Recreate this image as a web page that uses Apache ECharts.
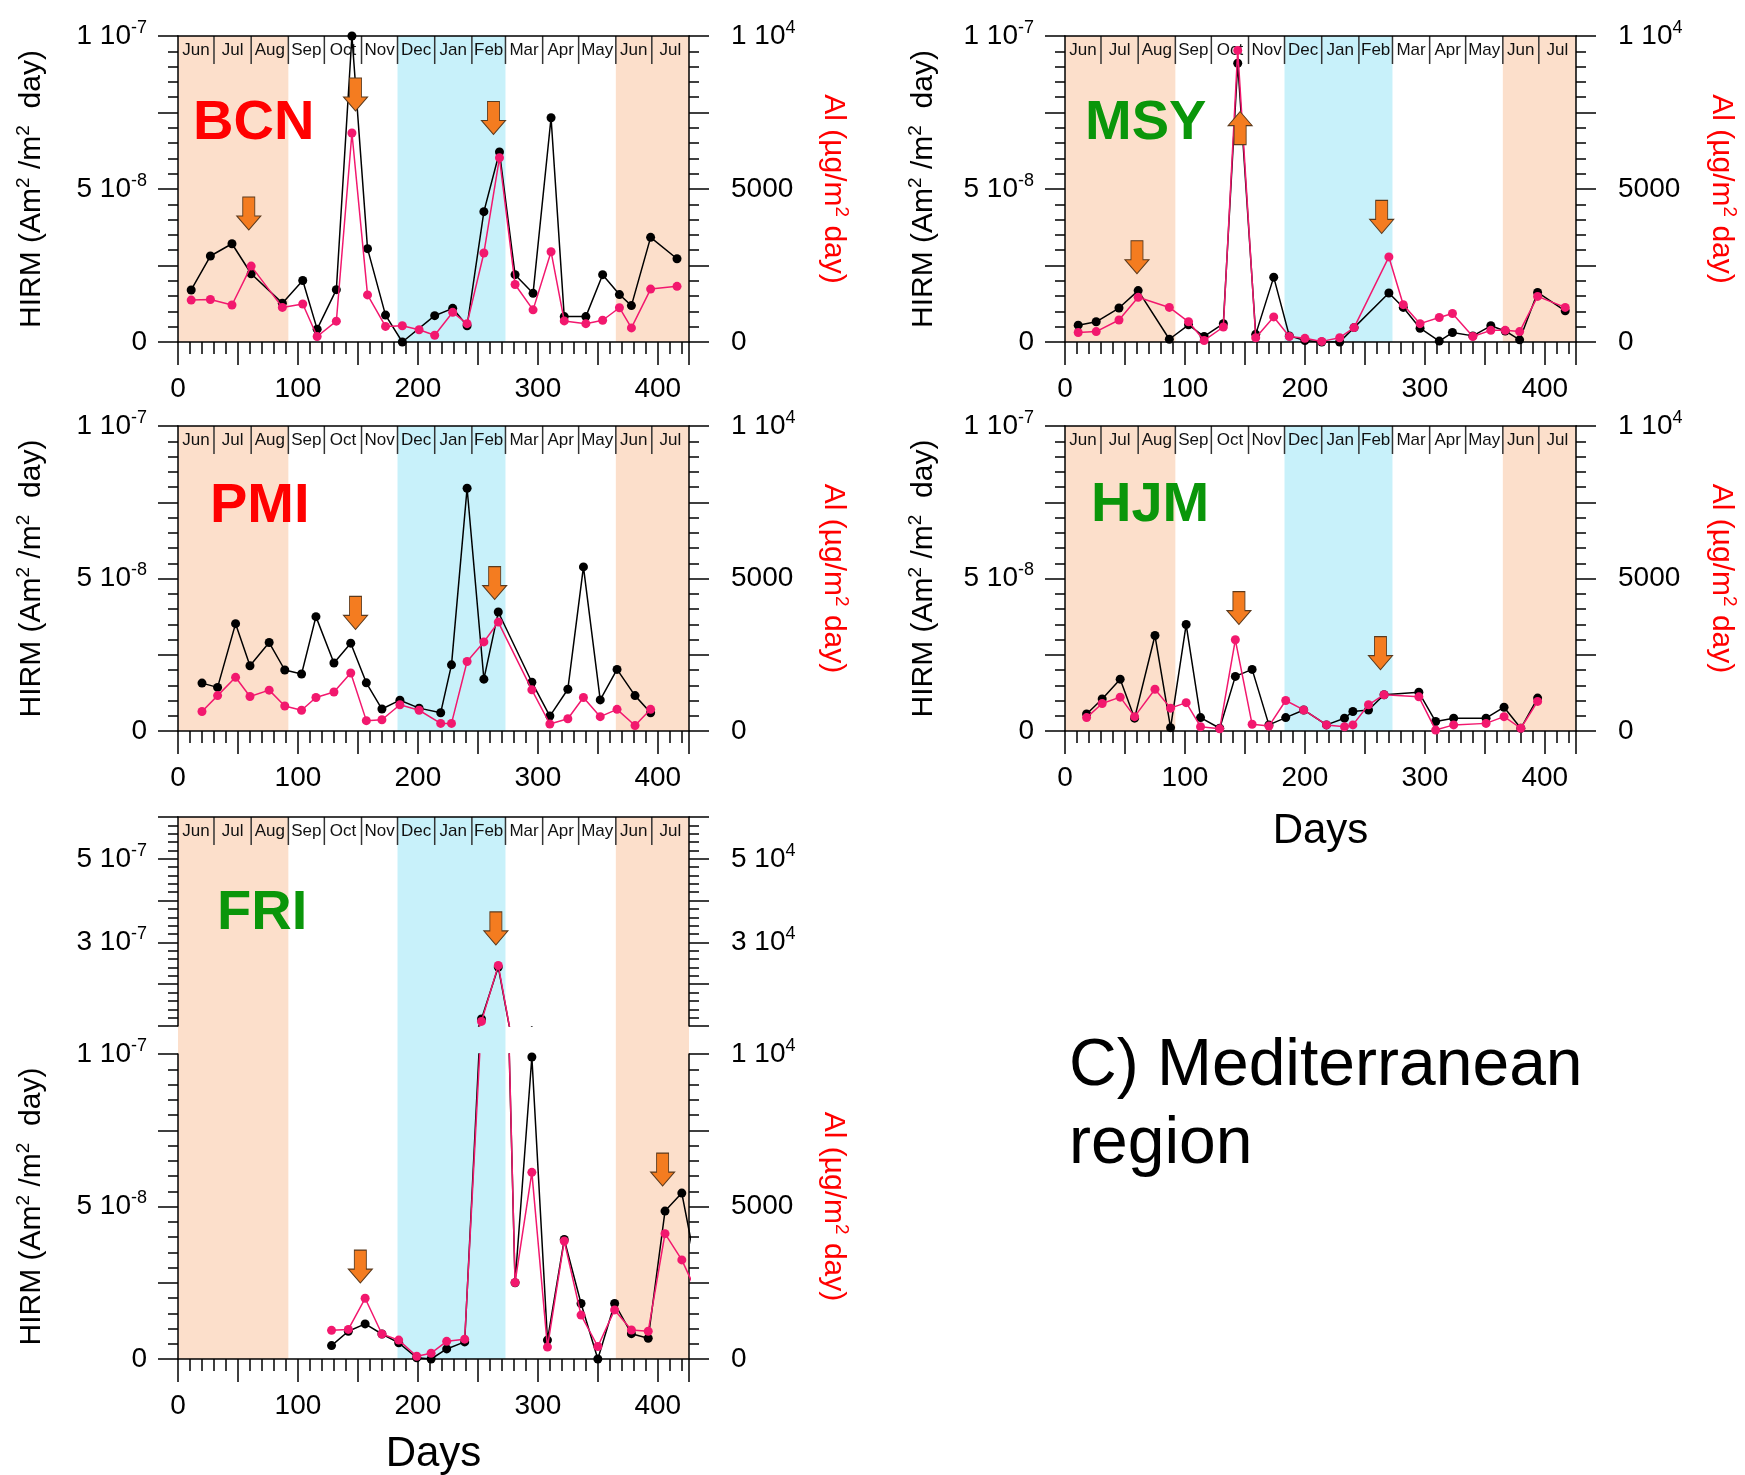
<!DOCTYPE html>
<html><head><meta charset="utf-8">
<script src="https://cdn.jsdelivr.net/npm/echarts/dist/echarts.min.js"></script>
<style>html,body{margin:0;padding:0;background:#fff}#c{width:1745px;height:1475px}</style>
</head><body><div id="c"></div>
<script>
// ================= DATA =================
// Calendar header (days since 1 June)
const monthNames  = ['Jun','Jul','Aug','Sep','Oct','Nov','Dec','Jan','Feb','Mar','Apr','May','Jun','Jul'];
const monthStarts = [0,30,61,92,122,153,183,214,245,273,304,334,365,395];
const monthEnds   = [30,61,92,122,153,183,214,245,273,304,334,365,395,426];
// Seasonal shading: 0 = summer (peach), 1 = winter (cyan)
const bandStarts = [0,183,365];
const bandEnds   = [92,273,426];
const bandKinds  = [0,1,0];
// Tick labels
const dayTickLabels = [0,100,200,300,400];
const hirmTickVals  = [0,5,10];          // units of 1e-8
const hirmTickText  = ['0','5 10{s|-8}','1 10{s|-7}'];
const hirmUpTickVals = [30,50];
const hirmUpTickText = ['3 10{s|-7}','5 10{s|-7}'];
const alTickVals  = [0,5000,10000];
const alTickText  = ['0','5000','1 10{s|4}'];
const alUpTickVals = [30000,50000];
const alUpTickText = ['3 10{s|4}','5 10{s|4}'];

// HIRM in units of 1e-8 Am2/m2 day ; Al in µg/m2 day
const bcnDaysH = [11,27,45,61,87,104,116,132,145,158,173,187,214,229,241,255,268,281,296,311,322,340,354,368,378,394,416];
const bcnHirm  = [1.70,2.81,3.21,2.23,1.27,2.01,0.42,1.71,10.0,3.05,0.88,0.0,0.86,1.10,0.53,4.26,6.21,2.20,1.59,7.33,0.83,0.83,2.20,1.55,1.19,3.42,2.72];
const bcnDaysA = [11,27,45,61,87,104,116,132,145,158,173,187,201,214,229,241,255,268,281,296,311,322,340,354,368,378,394,416];
const bcnAl    = [1370,1390,1210,2480,1130,1240,180,680,6830,1540,510,530,400,220,970,600,2910,6020,1880,1050,2950,690,600,710,1120,460,1730,1820];
const bcnArrowDays = [59,148,263];
const bcnArrowTips = [3.66,7.55,6.78];
const bcnArrowDirs = ['down','down','down'];

const msyDays = [11,26,45,61,87,103,116,132,144,159,174,187,200,214,229,241,270,282,296,312,323,340,355,367,379,394,417];
const msyHirm = [0.55,0.66,1.11,1.68,0.09,0.56,0.18,0.60,9.11,0.25,2.12,0.20,0.05,0.0,0.0,0.47,1.60,1.13,0.45,0.03,0.31,0.20,0.53,0.36,0.07,1.62,1.02];
const msyAl   = [310,340,720,1460,1130,660,50,490,9530,140,820,180,120,20,140,470,2780,1220,600,800,930,180,380,380,340,1490,1130];
const msyArrowDays = [60,146,264];
const msyArrowTips = [2.23,7.53,3.55];
const msyArrowDirs = ['down','up','down'];

const pmiDays = [20,33,48,60,76,89,103,115,130,144,157,170,185,201,219,228,241,255,267,295,310,325,338,352,366,381,394];
const pmiHirm = [1.57,1.43,3.52,2.14,2.90,2.00,1.87,3.75,2.23,2.88,1.58,0.72,1.01,0.75,0.60,2.17,7.96,1.70,3.90,1.60,0.49,1.37,5.38,1.02,2.02,1.16,0.60];
const pmiAl   = [640,1160,1760,1130,1340,820,680,1100,1280,1900,340,370,860,680,250,250,2280,2920,3570,1350,230,400,1100,470,710,180,710];
const pmiArrowDays = [148,264];
const pmiArrowTips = [3.33,4.31];
const pmiArrowDirs = ['down','down'];

const hjmDays = [18,31,46,58,75,88,101,113,129,142,156,170,184,199,218,233,240,253,266,295,309,324,351,366,380,394];
const hjmHirm = [0.56,1.05,1.70,0.42,3.13,0.11,3.49,0.44,0.09,1.79,2.02,0.20,0.44,0.69,0.20,0.42,0.64,0.69,1.19,1.27,0.31,0.42,0.42,0.78,0.09,1.08];
const hjmAl   = [440,900,1110,470,1370,750,930,140,70,2990,220,160,1000,690,200,140,200,860,1190,1120,30,200,250,470,90,970];
const hjmArrowDays = [145,263];
const hjmArrowTips = [3.49,2.01];
const hjmArrowDirs = ['down','down'];

const friDays = [128,142,156,170,184,199,211,224,239,253,267,281,295,308,322,336,350,364,378,392,406,420,434];
const friHirm = [0.44,0.91,1.15,0.82,0.53,0.04,0.0,0.33,0.56,11.7,24.1,2.5,9.9,0.62,3.92,1.82,0.0,1.82,0.83,0.68,4.85,5.44,2.6];
const friAl   = [940,970,1990,820,620,90,190,580,650,11100,24500,2510,6120,390,3870,1440,410,1610,950,910,4110,3250,2050];
const friArrowDays = [152,265,404];
const friArrowTips = [2.49,29.4,5.67];
const friArrowDirs = ['down','down','down'];

// ================= STYLE =================
const FONT = '"Liberation Sans", Arial, Helvetica, sans-serif';
const RED = '#FF0000', GREEN = '#0A960A';
const PINK = '#F2186E';
const SEASON_COLORS = ['#FCDFCB', '#C8F1FA'];
const ARROW_FILL = '#F47C20', ARROW_EDGE = '#5a3a1e';
const DOWN = 'path://M6,0 L18,0 L18,19 L24,19 L12,33 L0,19 L6,19 Z';
const UP = 'path://M12,0 L24,14 L18,14 L18,33 L6,33 L6,14 L0,14 Z';

const option = {animation:false, backgroundColor:'#fff', grid:[], xAxis:[], yAxis:[], series:[], graphic:[]};

function zip(a, b) { return a.map((v, i) => [v, b[i]]); }
function addGrid(g) { option.grid.push(Object.assign({show:false, containLabel:false, outerBoundsMode:'none'}, g)); return option.grid.length - 1; }
function tickFormatter(vals, texts) {
  return function (v) {
    for (let i = 0; i < vals.length; i++) if (Math.abs(vals[i] - v) < 1e-6 * Math.max(1, Math.abs(vals[i]))) return texts[i];
    return '';
  };
}
function addX(gridIndex, kind, showName, nameGap) {
  let ax;
  if (kind === 'bottom') {
    ax = {type:'value', gridIndex, position:'bottom', min:0, max:426, interval:50, z:5,
      axisLine:{show:true, onZero:false, lineStyle:{color:'#000', width:1.5}},
      axisTick:{show:true, length:23, lineStyle:{color:'#000', width:1.5}},
      minorTick:{show:true, splitNumber:5, length:12, lineStyle:{color:'#000', width:1.5}},
      splitLine:{show:false}, minorSplitLine:{show:false},
      axisLabel:{show:true, margin:33, fontSize:28, fontFamily:FONT, color:'#000', formatter: tickFormatter(dayTickLabels, dayTickLabels.map(String))},
      name: showName ? 'Days' : '', nameLocation:'middle', nameGap: nameGap || 74,
      nameTextStyle:{fontSize:42, fontFamily:FONT, color:'#000'}};
  } else if (kind === 'top') {
    ax = {type:'value', gridIndex, position:'top', min:0, max:426, z:5,
      axisLine:{show:true, onZero:false, lineStyle:{color:'#000', width:1.5}},
      axisTick:{show:false}, axisLabel:{show:false}, splitLine:{show:false}};
  } else {
    ax = {type:'value', gridIndex, min:0, max:426, show:false, splitLine:{show:false}};
  }
  option.xAxis.push(ax); return option.xAxis.length - 1;
}
function addY(gridIndex, pos, min, max, interval, vals, texts, nameText, nameGap, nameColor, nameRotate) {
  const ax = {type:'value', gridIndex, position:pos, min, max, interval, z:5,
    axisLine:{show:true, onZero:false, lineStyle:{color:'#000', width:1.5}},
    axisTick:{show:true, length:20, lineStyle:{color:'#000', width:1.5}},
    minorTick:{show:true, splitNumber:5, length:10, lineStyle:{color:'#000', width:1.5}},
    splitLine:{show:false}, minorSplitLine:{show:false},
    axisLabel:{show:true, margin: pos === 'left' ? 31 : 42, fontSize:28, fontFamily:FONT, color:'#000', lineHeight:34,
      formatter: tickFormatter(vals, texts),
      rich:{s:{fontSize:18, fontFamily:FONT, color:'#000', lineHeight:18, verticalAlign:'top'}}},
    name: nameText || '', nameLocation:'middle', nameGap: nameGap || 0, nameRotate,
    nameTextStyle:{fontSize:30, fontFamily:FONT, color:nameColor || '#000', lineHeight:36,
      rich:{s:{fontSize:19, fontFamily:FONT, color:nameColor || '#000', lineHeight:19, verticalAlign:'top'}}}};
  option.yAxis.push(ax); return option.yAxis.length - 1;
}
function addHiddenY(gridIndex) {
  option.yAxis.push({type:'value', gridIndex, min:0, max:1, show:false, splitLine:{show:false}});
  return option.yAxis.length - 1;
}
function renderBand(params, api) {
  const cs = params.coordSys;
  const x0 = api.coord([api.value(0), 0])[0];
  const x1 = api.coord([api.value(1), 0])[0];
  return {type:'rect', shape:{x:x0, y:cs.y, width:x1 - x0, height:cs.height},
    style:{fill: SEASON_COLORS[api.value(2)]}};
}
function renderMonth(params, api) {
  const cs = params.coordSys;
  const x0 = api.coord([api.value(0), 0])[0];
  const x1 = api.coord([api.value(1), 0])[0];
  const children = [];
  if (api.value(0) > 0) children.push({type:'line', shape:{x1:x0, y1:cs.y, x2:x0, y2:cs.y + 28}, style:{stroke:'#333', lineWidth:1.5}});
  children.push({type:'text', style:{text: monthNames[api.value(2)], x:(x0 + x1) / 2, y: cs.y + 14,
    align:'center', verticalAlign:'middle', textAlign:'center', textVerticalAlign:'middle',
    font:'17px ' + FONT, fill:'#111'}});
  return {type:'group', children};
}
function addBackground(xi, yi) {
  option.series.push({type:'custom', xAxisIndex:xi, yAxisIndex:yi, renderItem:renderBand, silent:true, z:1,
    encode:{x:[0,1], y:2}, data: bandStarts.map((s, i) => [s, bandEnds[i], bandKinds[i]])});
  option.series.push({type:'custom', xAxisIndex:xi, yAxisIndex:yi, renderItem:renderMonth, silent:true, z:3,
    encode:{x:[0,1], y:2}, data: monthStarts.map((s, i) => [s, monthEnds[i], i])});
}
function addLines(xi, yiL, yiR, dH, h, dA, a) {
  option.series.push({type:'line', xAxisIndex:xi, yAxisIndex:yiL, data:zip(dH, h), clip:true, silent:true, z:6,
    symbol:'circle', symbolSize:9, showSymbol:true, showAllSymbol:true,
    lineStyle:{color:'#000', width:1.5}, itemStyle:{color:'#000'}});
  option.series.push({type:'line', xAxisIndex:xi, yAxisIndex:yiR, data:zip(dA, a), clip:true, silent:true, z:7,
    symbol:'circle', symbolSize:9, showSymbol:true, showAllSymbol:true,
    lineStyle:{color:PINK, width:1.5}, itemStyle:{color:PINK}});
}
function addArrows(xi, yi, days, tips, dirs) {
  if (!days.length) return;
  option.series.push({type:'scatter', xAxisIndex:xi, yAxisIndex:yi, silent:true, z:8, clip:false,
    symbolSize:[24,33],
    itemStyle:{color:ARROW_FILL, borderColor:ARROW_EDGE, borderWidth:1, opacity:1},
    data: days.map((d, i) => ({value:[d, tips[i]], symbol: dirs[i] === 'up' ? UP : DOWN,
      symbolOffset:[0, dirs[i] === 'up' ? '50%' : '-50%']}))});
}
function addLabel(text, color, x, y) {
  option.graphic.push({type:'text', x, y, z:50, silent:true,
    style:{text, font:'bold 56px ' + FONT, fill:color, align:'left', verticalAlign:'middle', textAlign:'left', textVerticalAlign:'middle'}});
}

const HIRM_NAME = 'HIRM (Am{s|2} /m{s|2}  day)';
const AL_NAME = 'Al (µg/m{s|2} day)';

function standardPanel(lay, dH, h, dA, a, aDays, aTips, aDirs) {
  const g = addGrid(lay.grid);
  const xb = addX(g, 'bottom', lay.days, 79);
  addX(g, 'top');
  const yl = addY(g, 'left', 0, 10, 2.5, hirmTickVals, hirmTickText, HIRM_NAME, lay.gapL, '#000', 90);
  const yr = addY(g, 'right', 0, 10000, 2500, alTickVals, alTickText, AL_NAME, lay.gapR, RED, -90);
  addBackground(xb, yl);
  addLines(xb, yl, yr, dH, h, dA, a);
  addArrows(xb, yl, aDays, aTips, aDirs);
  addLabel(lay.text, lay.color, lay.label[0], lay.label[1]);
}

standardPanel({grid:{left:178, top:36, width:511, height:306}, gapL:128, gapR:126, days:false, text:'BCN', color:RED, label:[193,124]},
  bcnDaysH, bcnHirm, bcnDaysA, bcnAl, bcnArrowDays, bcnArrowTips, bcnArrowDirs);
standardPanel({grid:{left:1065, top:36, width:511, height:306}, gapL:123, gapR:127, days:false, text:'MSY', color:GREEN, label:[1085,124]},
  msyDays, msyHirm, msyDays, msyAl, msyArrowDays, msyArrowTips, msyArrowDirs);
standardPanel({grid:{left:178, top:426, width:511, height:305}, gapL:128, gapR:126, days:false, text:'PMI', color:RED, label:[210,507]},
  pmiDays, pmiHirm, pmiDays, pmiAl, pmiArrowDays, pmiArrowTips, pmiArrowDirs);
standardPanel({grid:{left:1065, top:426, width:511, height:305}, gapL:123, gapR:127, days:true, text:'HJM', color:GREEN, label:[1091,506]},
  hjmDays, hjmHirm, hjmDays, hjmAl, hjmArrowDays, hjmArrowTips, hjmArrowDirs);

// FRI: broken axis (upper 1e-7..6e-7, lower 0..1e-7)
(function () {
  const gF = addGrid({left:178, top:817, width:511, height:542});
  const gU = addGrid({left:178, top:817, width:511, height:209});
  const gL = addGrid({left:178, top:1054, width:511, height:305});
  const xF = addX(gF, 'bottom', true, 74); addX(gF, 'top');
  const yF = addHiddenY(gF);
  const xU = addX(gU, 'hidden');
  const xL = addX(gL, 'hidden');
  const yUL = addY(gU, 'left', 10, 60, 10, hirmUpTickVals, hirmUpTickText, '', 0, '#000', 90);
  const yUR = addY(gU, 'right', 10000, 60000, 10000, alUpTickVals, alUpTickText, '', 0, RED, -90);
  const yLL = addY(gL, 'left', 0, 10, 2.5, hirmTickVals, hirmTickText, HIRM_NAME, 128, '#000', 90);
  const yLR = addY(gL, 'right', 0, 10000, 2500, alTickVals, alTickText, AL_NAME, 126, RED, -90);
  addBackground(xF, yF);
  addLines(xU, yUL, yUR, friDays, friHirm, friDays, friAl);
  addLines(xL, yLL, yLR, friDays, friHirm, friDays, friAl);
  const up = friArrowTips.map((t, i) => i).filter(i => friArrowTips[i] > 10);
  const lo = friArrowTips.map((t, i) => i).filter(i => friArrowTips[i] <= 10);
  addArrows(xU, yUL, up.map(i => friArrowDays[i]), up.map(i => friArrowTips[i]), up.map(i => friArrowDirs[i]));
  addArrows(xL, yLL, lo.map(i => friArrowDays[i]), lo.map(i => friArrowTips[i]), lo.map(i => friArrowDirs[i]));
  addLabel('FRI', GREEN, 217, 914);
})();

option.graphic.push({type:'text', x:1069, y:1067, z:50, silent:true,
  style:{text:'C) Mediterranean', font:'66px ' + FONT, fill:'#000', align:'left', verticalAlign:'middle', textAlign:'left', textVerticalAlign:'middle'}});
option.graphic.push({type:'text', x:1069, y:1145, z:50, silent:true,
  style:{text:'region', font:'66px ' + FONT, fill:'#000', align:'left', verticalAlign:'middle', textAlign:'left', textVerticalAlign:'middle'}});

const chart = echarts.init(document.getElementById('c'), null, {renderer:'canvas', width:1745, height:1475});
chart.setOption(option);
</script></body></html>
